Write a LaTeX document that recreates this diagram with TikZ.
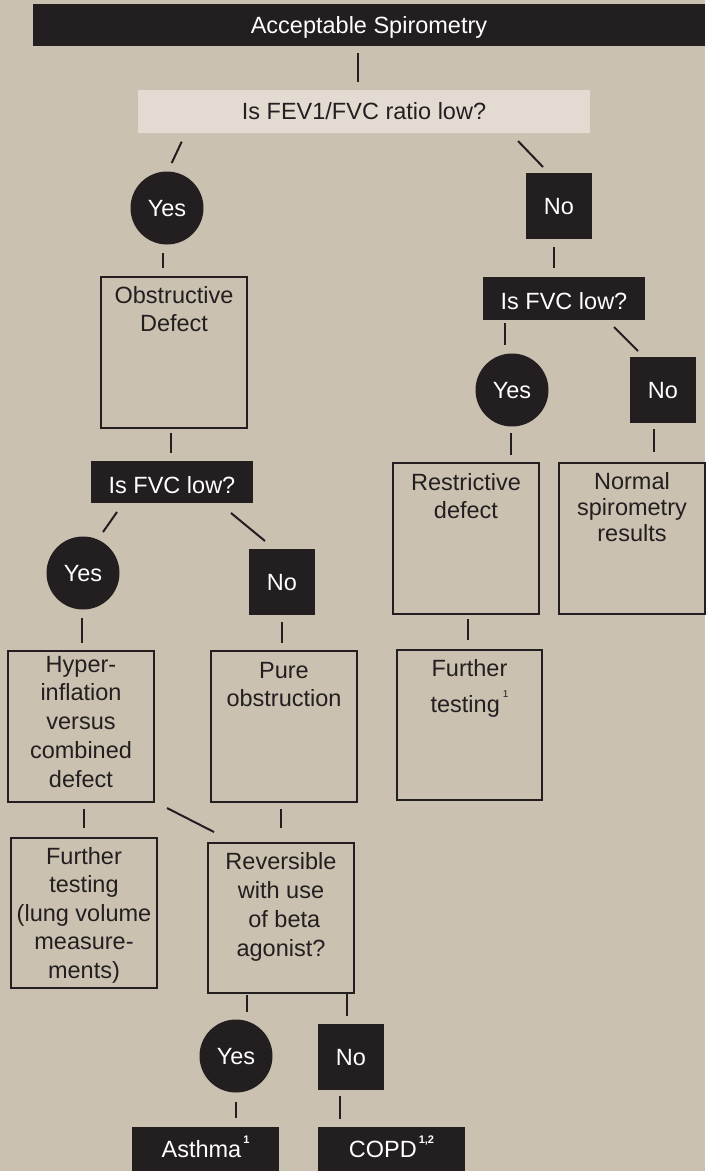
\documentclass[tikz,border=0pt]{standalone}
\usepackage{fontspec}
\setmainfont{Liberation Sans}
\usetikzlibrary{calc}
\definecolor{bg}{HTML}{CBC1B0}
\definecolor{ink}{HTML}{231F20}
\definecolor{pale}{HTML}{E3DBD1}
\newcommand{\firststrut}{\rule{0pt}{20pt}}
\newcommand{\supnum}[2]{\raisebox{#1}{\fontsize{11}{11}\selectfont #2}}
\begin{document}
\begin{tikzpicture}[x=1pt,y=-1pt,
  every node/.style={font=\fontsize{23.5}{28.5}\selectfont, inner sep=0pt, outer sep=0pt},
  bar/.style={fill=ink, text=white, text height=16.8pt, text depth=0pt},
  yesdot/.style={circle, fill=ink, text=white, minimum size=73pt, text height=16.8pt, text depth=0pt},
  nosq/.style={fill=ink, text=white, minimum width=66pt, minimum height=66pt, text height=16.8pt, text depth=0pt},
  outbox/.style={draw=ink, line width=1.3pt, minimum width=146pt, minimum height=151pt},
  boxtext/.style={align=center, anchor=north, text=ink},
  conn/.style={draw=ink, line width=2pt}
]
\fill[bg] (0,0) rectangle (705,1171);
\useasboundingbox (0,0) rectangle (705,1171);

% top levels
\node[bar, minimum width=672pt, minimum height=42pt] (top) at (369,25) {Acceptable Spirometry};
\node[fill=pale, text=ink, minimum width=452pt, minimum height=43pt, text height=16.8pt, text depth=0pt] (fev) at (364,111.5) {Is FEV1/FVC ratio low?};
\node[yesdot] (yes1) at (167,208) {Yes};
\node[nosq] (no1) at (559,206) {No};

% left branch
\node[outbox] (obs) at (174,352.5) {};
\node[boxtext] (obst) at ($(obs.north)+(0,6)$) {\firststrut Obstructive\\Defect};
\node[bar, minimum width=162pt, minimum height=42pt, text height=22.8pt] (fvc1) at (172,482) {Is FVC low?};
\node[yesdot] (yes3) at (83,573) {Yes};
\node[nosq] (no3) at (282,582) {No};
\node[outbox] (hyp) at (81,726.5) {};
\node[boxtext, font=\fontsize{23.5}{28.75}\selectfont] (hypt) at ($(hyp.north)+(0,1)$) {\firststrut Hyper-\\inflation\\versus\\combined\\defect};
\node[outbox] (pure) at (284,726.5) {};
\node[boxtext] (puret) at ($(pure.north)+(0,7)$) {\firststrut Pure\\obstruction};
\node[outbox, minimum height=150pt] (ft2) at (84,913) {};
\node[boxtext] (ft2t) at ($(ft2.north)+(0,6)$) {\firststrut Further\\testing\\(lung volume\\measure-\\ments)};
\node[outbox, minimum height=150pt] (rev) at (281,918) {};
\node[boxtext, font=\fontsize{23.5}{29}\selectfont] (revt) at ($(rev.north)+(0,6)$) {\firststrut Reversible\\with use\\\ of beta\\agonist?};
\node[yesdot] (yes4) at (236,1056) {Yes};
\node[nosq] (no4) at (351,1057) {No};
\node[bar, minimum width=147pt, minimum height=44pt] (asth) at (205.5,1149) {Asthma\kern2pt\supnum{13.5pt}{\bfseries 1}};
\node[bar, minimum width=147pt, minimum height=44pt] (copd) at (391.5,1149) {COPD\kern2pt\supnum{13.5pt}{\bfseries 1,2}};

% right branch
\node[bar, minimum width=162pt, minimum height=43pt, text height=22.8pt] (fvc2) at (564,298.5) {Is FVC low?};
\node[yesdot] (yes2) at (512,390) {Yes};
\node[nosq] (no2) at (663,390) {No};
\node[outbox] (restr) at (466,538.5) {};
\node[boxtext] (restrt) at ($(restr.north)+(0,7)$) {\firststrut Restrictive\\defect};
\node[outbox] (norm) at (632,538.5) {};
\node[boxtext, font=\fontsize{23.5}{26.3}\selectfont] (normt) at ($(norm.north)+(0,6)$) {\firststrut Normal\\spirometry\\results};
\node[outbox, minimum width=145pt, minimum height=150pt] (ft1) at (469.5,725) {};
\node[boxtext] (ft1t) at ($(ft1.north)+(0,6)$) {\firststrut Further\\[8pt]testing\kern3pt\supnum{15pt}{\fontsize{10}{10}\selectfont 1}};

% connectors
\draw[conn] ($(top.south)+(-11.5,7)$) -- ($(fev.north)+(-6.5,-8)$);
\draw[conn] ($(fev.south west)+(43.7,8.7)$) -- ($(yes1.north)+(4.7,-8.5)$);
\draw[conn] ($(fev.south east)+(-72,8)$) -- ($(no1.north)+(-16,-6)$);
\draw[conn] ($(yes1.south)+(-3.7,8.5)$) -- ($(obs.north)+(-10.7,-9)$);
\draw[conn] ($(obs.south)+(-3,5)$) -- ($(fvc1.north)+(-1,-8)$);
\draw[conn] ($(no1.south)+(-5,8)$) -- ($(fvc2.north)+(-10,-9)$);
\draw[conn] ($(fvc2.south)+(-59,3)$) -- ($(yes2.north)+(-7,-8.5)$);
\draw[conn] ($(fvc2.south)+(50,7)$) -- ($(no2.north)+(-25,-6)$);
\draw[conn] ($(yes2.south)+(-1,6.5)$) -- ($(restr.north)+(45,-8)$);
\draw[conn] ($(no2.south)+(-9,6)$) -- ($(norm.north)+(22,-11)$);
\draw[conn] ($(restr.south)+(2,5)$) -- ($(ft1.north)+(-1.5,-10)$);
\draw[conn] ($(fvc1.south)+(-55,9)$) -- ($(yes3.north)+(20,-4.5)$);
\draw[conn] ($(fvc1.south)+(59,10)$) -- ($(no3.north)+(-17,-8)$);
\draw[conn] ($(yes3.south)+(-1,8.5)$) -- ($(hyp.north)+(1,-8)$);
\draw[conn] ($(no3.south)+(0,7)$) -- ($(pure.north)+(-2,-8)$);
\draw[conn] ($(hyp.south)+(3,7)$) -- ($(ft2.north)+(0,-10)$);
\draw[conn] ($(hyp.south east)+(13,6)$) -- ($(rev.north west)+(6,-11)$);
\draw[conn] ($(pure.south)+(-3,7)$) -- ($(rev.north)+(0,-15)$);
\draw[conn] ($(rev.south)+(-34,2)$) -- ($(yes4.north)+(11,-7.5)$);
\draw[conn] ($(rev.south east)+(-7,-1)$) -- ($(no4.north)+(-4,-8)$);
\draw[conn] ($(yes4.south)+(0,9.5)$) -- ($(asth.north)+(30.5,-9)$);
\draw[conn] ($(no4.south)+(-11,6)$) -- ($(copd.north)+(-51.5,-8)$);
\end{tikzpicture}
\end{document}
